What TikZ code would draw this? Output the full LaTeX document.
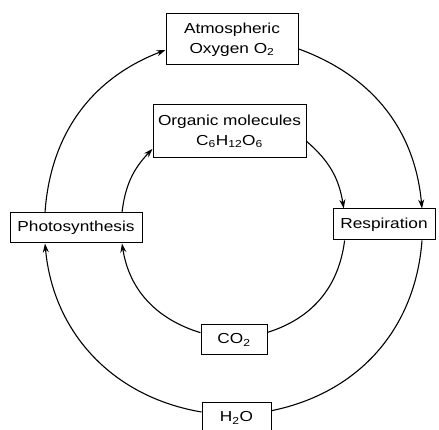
\documentclass[tikz,border=0pt]{standalone}
\usepackage{fontspec}
\setmainfont{Liberation Sans}[FakeStretch=1.19]
\usetikzlibrary{arrows.meta}
\begin{document}
\begin{tikzpicture}[x=1pt,y=1pt]
  \tikzset{ box/.style={draw,line width=1pt,fill=white,align=center,inner sep=0pt,font=\fontsize{14.5}{20}\selectfont},
            flow/.style={line width=1.1pt},
            tip/.style={-{Stealth[length=9pt,width=6pt]}},
  }
  \useasboundingbox (0,0) rectangle (439,430);

  \node[box,minimum width=132pt,minimum height=51pt] (atm) at (232,390.5) {Atmospheric\\Oxygen O\textsubscript{2}};
  \node[box,minimum width=153pt,minimum height=53pt] (org) at (229.5,298.5) {Organic molecules\\C\textsubscript{6}H\textsubscript{12}O\textsubscript{6}};
  \node[box,minimum width=132pt,minimum height=30pt] (photo) at (76,202) {Photosynthesis};
  \node[box,minimum width=102pt,minimum height=31pt] (resp) at (384,205.5) {Respiration};
  \node[box,minimum width=66pt,minimum height=30pt] (co2) at (234,90) {CO\textsubscript{2}};
  \node[box,minimum width=69pt,minimum height=30pt] (h2o) at (236.5,12) {H\textsubscript{2}O};

  % outer cycle
  \draw[flow,tip] ([yshift=6pt]h2o.west) to[out=170.4,in=275.2] ([xshift=-31pt]photo.south);
  \draw[flow,tip] ([xshift=-31pt]photo.north) to[out=86,in=201] ([yshift=-10.5pt]atm.west);
  \draw[flow,tip] ([yshift=-9.4pt]atm.east) to[out=-20,in=95.2] ([xshift=38pt]resp.north);
  \draw[flow] ([xshift=38pt]resp.south) to[out=-94.3,in=11.5] ([yshift=7.3pt]h2o.east);

  % inner cycle
  \draw[flow,tip] ([yshift=7.3pt]co2.west) to[out=163,in=278.8] ([xshift=46pt]photo.south);
  \draw[flow,tip] ([xshift=46pt]photo.north) to[out=83.3,in=226.2] ([yshift=-17.4pt]org.west);
  \draw[flow,tip] ([yshift=-9.8pt]org.east) to[out=-40.5,in=98.8] ([xshift=-40.3pt]resp.north);
  \draw[flow] ([xshift=-39.4pt]resp.south) to[out=-97.2,in=17.5] ([yshift=7.6pt]co2.east);

\end{tikzpicture}
\end{document}
